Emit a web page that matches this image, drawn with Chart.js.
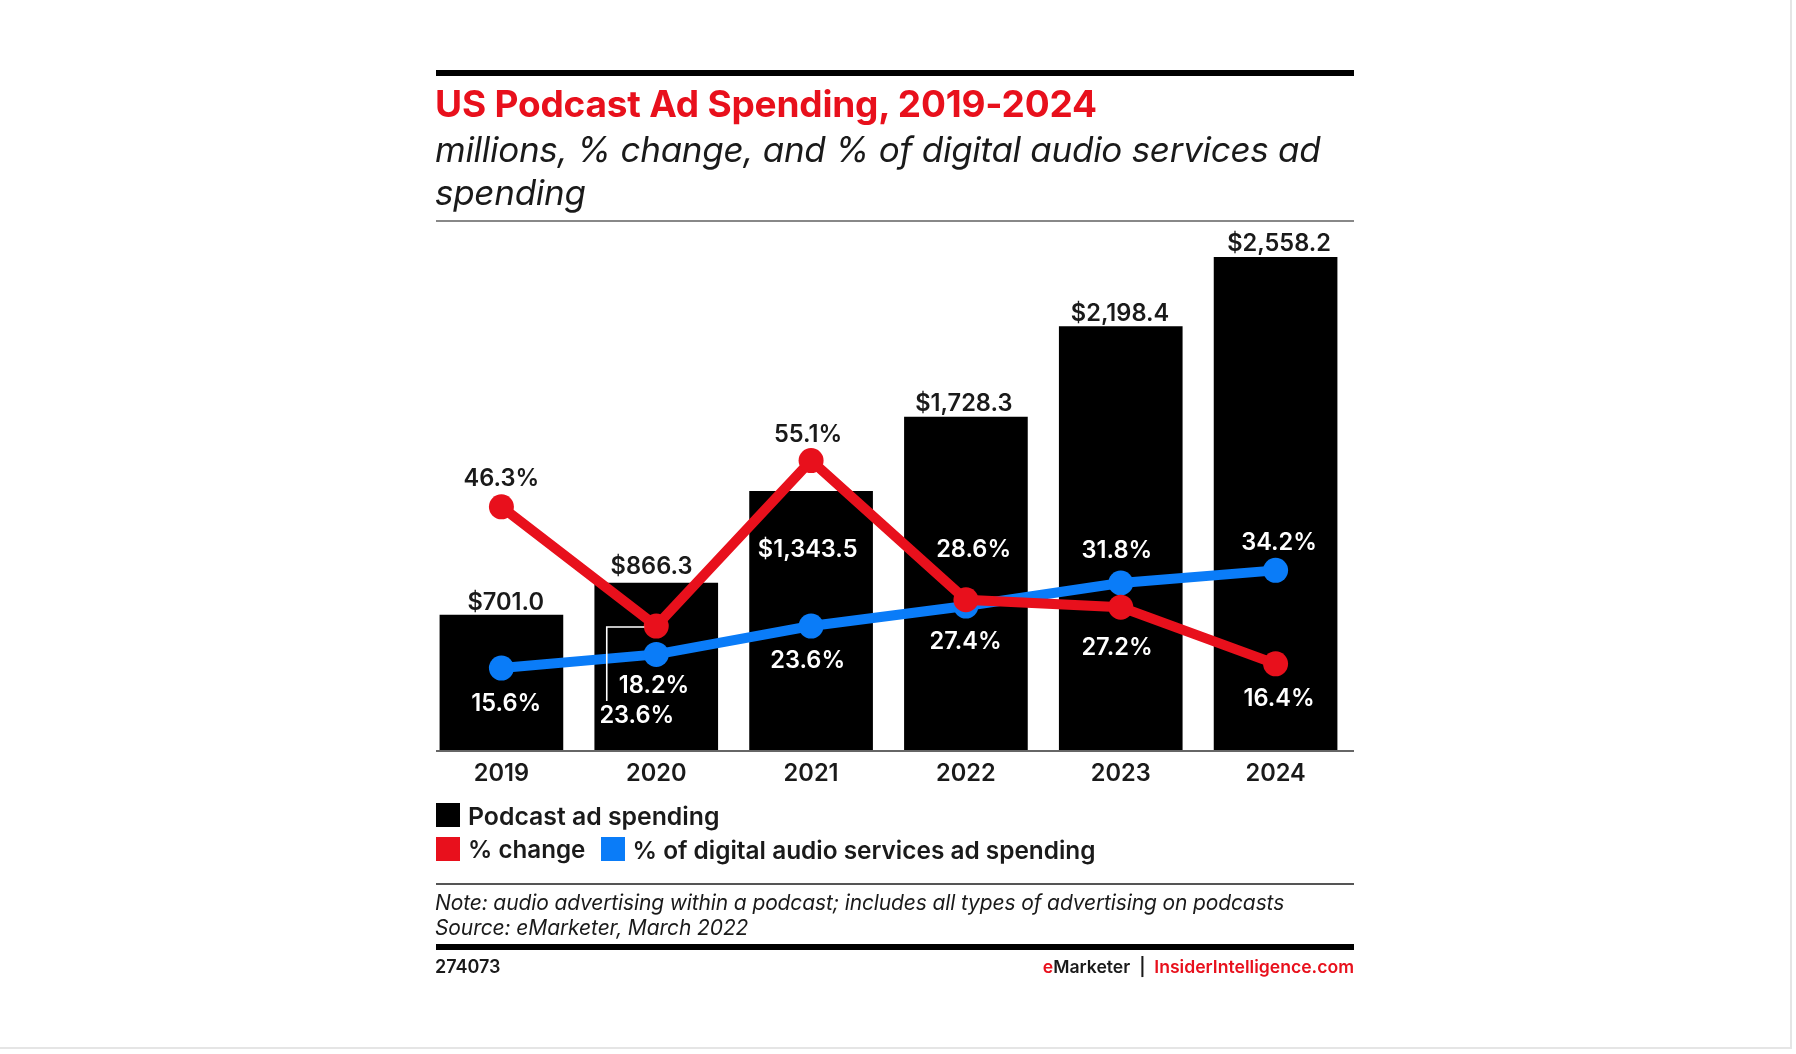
<!DOCTYPE html>
<html><head><meta charset="utf-8">
<script src="https://cdn.jsdelivr.net/npm/chart.js@4"></script>
<style>
html,body{margin:0;padding:0;background:#fff;width:1796px;height:1054px;overflow:hidden}
#wrap{position:relative;width:1796px;height:1054px;font-family:Inter,sans-serif;color:#1a1a1a}
canvas{position:absolute;left:0;top:0}
.r{position:absolute;left:435.5px;width:918px}
.t{position:absolute;white-space:nowrap;line-height:1}
.s{position:absolute;width:24px;height:23.5px}
</style></head><body>
<div id="wrap">
<canvas id="c" width="1796" height="1054"></canvas>
<div class="r" style="top:70px;height:6px;background:#000"></div>
<div class="t" style="left:435px;top:85px;font-size:37px;font-weight:700;color:#e8101c;letter-spacing:-.2px">US Podcast Ad Spending, 2019-2024</div>
<div class="t" style="left:435px;top:132px;font-size:35px;font-style:italic;font-weight:400;letter-spacing:-.28px">millions, % change, and % of digital audio services ad</div>
<div class="t" style="left:435px;top:175px;font-size:35px;font-style:italic;font-weight:400;letter-spacing:-.28px">spending</div>
<div class="r" style="top:219.5px;height:2.5px;background:#888"></div>
<div class="r" style="top:750px;height:2px;background:#666"></div>
<div class="s" style="left:435.5px;top:803px;background:#000"></div>
<div class="t" style="left:468px;top:804px;font-size:24.8px;font-weight:600">Podcast ad spending</div>
<div class="s" style="left:435.5px;top:837px;background:#e8101c"></div>
<div class="t" style="left:468px;top:838px;font-size:24.2px;font-weight:600">% change</div>
<div class="s" style="left:600.5px;top:837px;background:#0a7cf8"></div>
<div class="t" style="left:632.5px;top:838px;font-size:24.4px;font-weight:600">% of digital audio services ad spending</div>
<div class="r" style="top:883px;height:2px;background:#555"></div>
<div class="t" style="left:435px;top:892px;font-size:21px;font-style:italic;letter-spacing:-.13px">Note: audio advertising within a podcast; includes all types of advertising on podcasts</div>
<div class="t" style="left:435px;top:917px;font-size:21px;font-style:italic;letter-spacing:-.1px">Source: eMarketer, March 2022</div>
<div class="r" style="top:944px;height:6px;background:#000"></div>
<div class="t" style="left:435px;top:958px;font-size:18px;font-weight:600">274073</div>
<div class="t" style="right:442px;top:958px;font-size:17.6px;font-weight:600"><span style="color:#e8101c">e</span>Marketer&nbsp; |&nbsp; <span style="color:#e8101c">InsiderIntelligence.com</span></div>
<div style="position:absolute;left:1790px;top:0;width:2px;height:1049px;background:#e5e5e5"></div>
<div style="position:absolute;left:0;top:1047px;width:1792px;height:2px;background:#e5e5e5"></div>
</div>
<script>
const categories = ['2019','2020','2021','2022','2023','2024'];
const podcastSpending = [701.0, 866.3, 1343.5, 1728.3, 2198.4, 2558.2];
const percentChange = [46.3, 23.6, 55.1, 28.6, 27.2, 16.4];
const digitalAudioShare = [15.6, 18.2, 23.6, 27.4, 31.8, 34.2];

const spendingLabels = ['$701.0','$866.3','$1,343.5','$1,728.3','$2,198.4','$2,558.2'];
const changeLabels = ['46.3%','23.6%','55.1%','28.6%','27.2%','16.4%'];
const shareLabels = ['15.6%','18.2%','23.6%','27.4%','31.8%','34.2%'];

const RED = '#e8101c', BLUE = '#0a7cf8', INK = '#1a1a1a';

const labelPlacement = {
  bars: {dx:[4.3,-4.7,-3.4,-2.1,-0.7,3.5], dy:[-14,-17.5,57,-14.4,-13.9,-14.6], nudge:8.6,
         color:[INK,INK,'#fff',INK,INK,INK]},
  change: {dx:[0,-19.4,-3,7.7,-3.7,3.5], dy:[-28.8,89.6,-26.4,-50.3,40.3,34.3], nudge:7.6,
         color:[INK,'#fff',INK,'#fff','#fff','#fff']},
  share: {dx:[4.9,-2.2,-3.4,-0.3,-3.8,3.5], dy:[35.1,31.1,33.9,35.7,-32.8,-27.7], nudge:7.6,
         color:['#fff','#fff','#fff','#fff','#fff','#fff']}
};

const valueLabels = {
  id:'valueLabels',
  afterDatasetsDraw(chart){
    const {ctx, scales} = chart;
    ctx.save();
    ctx.textAlign='center'; ctx.textBaseline='alphabetic';
    ctx.font='600 23.6px Inter';
    const put=(vals,txt,scale,p)=>vals.forEach((v,i)=>{
      const x=scales.x.getPixelForValue(i)+p.dx[i];
      const y=scale.getPixelForValue(v)+p.dy[i];
      ctx.fillStyle=p.color[i];
      ctx.fillText(txt[i],x,y+p.nudge);
    });
    put(podcastSpending,spendingLabels,scales.y,labelPlacement.bars);
    put(percentChange,changeLabels,scales.y2,labelPlacement.change);
    put(digitalAudioShare,shareLabels,scales.y2,labelPlacement.share);
    // leader from the 2020 % change marker to its label
    const lx=scales.x.getPixelForValue(1), ly=scales.y2.getPixelForValue(percentChange[1]);
    ctx.strokeStyle='#fff'; ctx.lineWidth=1.6;
    ctx.beginPath();
    ctx.moveTo(lx-12,ly+1); ctx.lineTo(lx-49.5,ly+1); ctx.lineTo(lx-49.5,ly+75);
    ctx.stroke();
    ctx.restore();
  }
};

new Chart(document.getElementById('c'),{
  data:{labels:categories,datasets:[
    {type:'line',label:'% change',data:percentChange,yAxisID:'y2',order:1,borderColor:RED,backgroundColor:RED,
     borderWidth:10,pointRadius:12.5,pointBorderWidth:0,pointBackgroundColor:RED,tension:0},
    {type:'line',label:'% of digital audio services ad spending',data:digitalAudioShare,yAxisID:'y2',order:2,borderColor:BLUE,backgroundColor:BLUE,
     borderWidth:10,pointRadius:12.5,pointBorderWidth:0,pointBackgroundColor:BLUE,tension:0},
    {type:'bar',label:'Podcast ad spending',data:podcastSpending,yAxisID:'y',order:3,backgroundColor:'#000',barThickness:123}
  ]},
  options:{
    responsive:false,animation:false,devicePixelRatio:1,
    layout:{padding:{left:424,right:443,top:230,bottom:264}},
    plugins:{legend:{display:false},title:{display:false},tooltip:{enabled:false}},
    scales:{
      x:{offset:true,grid:{display:false},border:{display:false},
         afterFit(s){s.height=40;},
         ticks:{color:INK,font:{family:'Inter',size:23.6,weight:'600'},padding:2,maxRotation:0}},
      y:{display:false,min:0,max:2700},
      y2:{display:false,min:0,max:99}
    }
  },
  plugins:[valueLabels]
});
</script>
</body></html>
